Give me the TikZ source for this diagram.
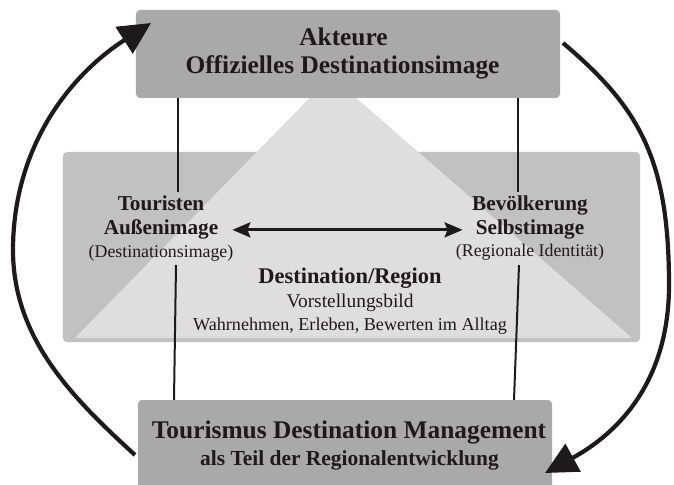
\documentclass[tikz,border=0pt]{standalone}
\usepackage{fontspec}
\setmainfont{Liberation Serif}
\usetikzlibrary{arrows.meta}
\definecolor{boxgray}{HTML}{A9A9A9}
\definecolor{midgray}{HTML}{C1C1C1}
\definecolor{trigray}{HTML}{DEDEDE}
\definecolor{ink}{HTML}{1E1A1B}
\begin{document}
\begin{tikzpicture}[x=1bp,y=-1bp,
  box/.style={fill=boxgray, rounded corners=4bp, inner sep=0pt},
  midbox/.style={fill=midgray, rounded corners=4bp, inner sep=0pt},
  lbl/.style={anchor=base, inner sep=0pt, text=ink},
  bigb/.style={lbl, font=\fontsize{25.5}{30}\selectfont\bfseries},
  teilb/.style={lbl, font=\fontsize{21.5}{25}\selectfont\bfseries},
  sideb/.style={lbl, font=\fontsize{21.3}{25}\selectfont\bfseries},
  paren/.style={lbl, font=\fontsize{17.9}{21}\selectfont},
  destb/.style={lbl, font=\fontsize{22.5}{26}\selectfont\bfseries},
  vorst/.style={lbl, font=\fontsize{19.5}{23}\selectfont},
  wahr/.style={lbl, font=\fontsize{18.2}{22}\selectfont},
  vline/.style={draw=ink, line width=2bp},
  dbl/.style={draw=ink, line width=2.8bp, {Stealth[length=18bp,width=15bp,inset=3bp]}-{Stealth[length=18bp,width=15bp,inset=3bp]}},
  cycarrow/.style={draw=ink, line width=4.2bp, -{Triangle[length=32bp,width=31bp]}}
]
\useasboundingbox (0,0) rectangle (674,485);
% boxes
\node[midbox, minimum width=577bp, minimum height=190bp] (mid) at (351.5,247) {};
\fill[trigray] (331,76) -- (75,338) -- (632,338) -- cycle;
\node[box, minimum width=424bp, minimum height=88bp] (top) at (348,54) {};
\node[box, minimum width=414bp, minimum height=92bp] (bot) at (345,446) {};
% texts
\node[bigb] (akt) at (343.5,46) {Akteure};
\node[bigb] (off) at (342.5,74) {Offizielles Destinationsimage};
\node[sideb] (tour) at (161,211) {Touristen};
\node[sideb, inner xsep=14bp] (aussen) at (161,235) {Außenimage};
\node[paren] (dimg) at (161,258) {(Destinationsimage)};
\node[sideb] (bev) at (530,211) {Bevölkerung};
\node[sideb, inner xsep=13bp] (selbst) at (530,235) {Selbstimage};
\node[paren] (rid) at (530,257) {(Regionale Identität)};
\node[destb] (dest) at (350,283) {Destination/Region};
\node[vorst] (vb) at (350,307) {Vorstellungsbild};
\node[wahr] (wahr) at (350,330) {Wahrnehmen, Erleben, Bewerten im Alltag};
\node[bigb] (tdm) at (349,438) {Tourismus Destination Management};
\node[teilb] (teil) at (349.5,465) {als Teil der Regionalentwicklung};
% vertical connectors
\coordinate (lu) at (178,192);
\coordinate (ru) at (518,192);
\coordinate (ll) at (176,265);
\coordinate (llb) at (174,400);
\coordinate (rl) at (519,265);
\coordinate (rlb) at (514,400);
\draw[vline] (lu |- top.south) -- (lu);
\draw[vline] (ru |- top.south) -- (ru);
\draw[vline] (ll) -- (llb |- bot.north);
\draw[vline] (rl) -- (rlb |- bot.north);
% double arrow
\draw[dbl] (aussen.east) -- (aussen.east -| selbst.west);
% cycle arrows
\coordinate (lstart) at (135,455);
\coordinate (lmid) at (13,250);
\coordinate (ltip) at (151,23);
\coordinate (rstart) at (563,43);
\coordinate (rmid) at (669,285);
\coordinate (rtip) at (545,473);
\draw[cycarrow] (lstart) .. controls (75,400) and (13,340) .. (lmid)
  .. controls (13,150) and (67,77) .. (ltip);
\draw[cycarrow] (rstart) .. controls (640,108) and (669,160) .. (rmid)
  .. controls (669,380) and (620,432) .. (rtip);
\end{tikzpicture}
\end{document}
